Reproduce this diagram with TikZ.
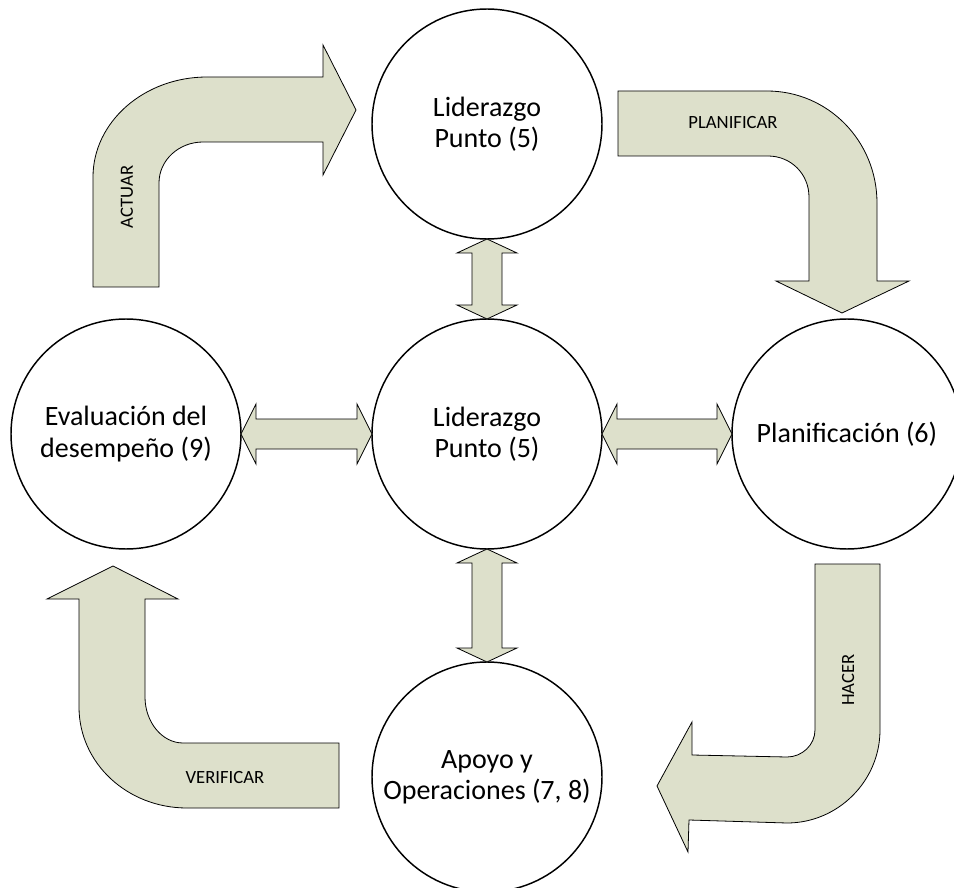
\documentclass[tikz,border=0pt]{standalone}
\usepackage{fontspec}
\setmainfont{Carlito}
\usetikzlibrary{calc}
\definecolor{arrowfill}{RGB}{221,224,203}
\tikzset{
  proc/.style={circle, draw=black, line width=1.1pt, minimum size=172.5pt,
    inner sep=0pt, outer sep=0pt, align=center,
    font=\fontsize{21}{23.5}\selectfont},
  blockarrow/.style={draw=black, line width=0.6pt, fill=arrowfill, line join=miter},
  lbl/.style={font=\fontsize{14}{16}\selectfont, inner sep=0pt},
}
\newcommand\vdblarrow[2]{%
  \draw[blockarrow] (#1) -- ($(#1)+(30,14)$) -- ($(#1)+(15,14)$) -- ($(#2)+(15,-14)$)
    -- ($(#2)+(30,-14)$) -- (#2) -- ($(#2)+(-30,-14)$) -- ($(#2)+(-15,-14)$)
    -- ($(#1)+(-15,14)$) -- ($(#1)+(-30,14)$) -- cycle;}
\newcommand\hdblarrow[2]{%
  \draw[blockarrow] (#1) -- ($(#1)+(15,-30)$) -- ($(#1)+(15,-15)$) -- ($(#2)+(-15,-15)$)
    -- ($(#2)+(-15,-30)$) -- (#2) -- ($(#2)+(-15,30)$) -- ($(#2)+(-15,15)$)
    -- ($(#1)+(15,15)$) -- ($(#1)+(15,30)$) -- cycle;}
\begin{document}
\begin{tikzpicture}[x=0.75pt,y=-0.75pt]
\useasboundingbox (0,0) rectangle (954,888);

% circles
\node[proc] (top)   at (487,124) {Liderazgo\\Punto (5)};
\node[proc] (cen)   at (487,434) {Liderazgo\\Punto (5)};
\node[proc] (left)  at (126,434) {Evaluación del\\desempeño (9)};
\node[proc] (right) at (847,434) {Planificación (6)};
\node[proc] (bot)   at (487,777) {Apoyo y\\Operaciones (7, 8)};

% double arrows
\vdblarrow{top.south}{cen.north}
\vdblarrow{cen.south}{bot.north}
\hdblarrow{left.east}{cen.west}
\hdblarrow{cen.east}{right.west}

% ACTUAR
\draw[blockarrow] (93,287) -- (93,177) .. controls (93,122) and (144,77) .. (207,77)
  -- (323,77) -- (323,45) -- (356,110) -- (323,175) -- (323,142) -- (203,142)
  .. controls (179,142) and (159,160) .. (159,183) -- (159,287) -- cycle;
\node[lbl, rotate=90] (tactuar) at (127,197) {ACTUAR};

% PLANIFICAR
\draw[blockarrow] (618,91) -- (767,91) .. controls (828,91) and (877,141) .. (877,203)
  -- (877,281) -- (909,281) -- (842,313) -- (776,281) -- (809,281) -- (809,197)
  .. controls (809,174) and (791,156) .. (768,156) -- (618,156) -- cycle;
\node[lbl] (tplan) at (733,123) {PLANIFICAR};

% HACER
\draw[blockarrow] (815,564) -- (880,564) -- (880,730) .. controls (880,781) and (838,823) .. (787,823)
  -- (689,820) -- (688,852) -- (657,786) -- (692,722) -- (692,755) -- (787,757)
  .. controls (802,757) and (815,745) .. (815,730) -- cycle;
\node[lbl, rotate=90] (thacer) at (848,680) {HACER};

% VERIFICAR
\draw[blockarrow] (339,743) -- (339,808) -- (187,808) .. controls (127,808) and (79,763) .. (79,707)
  -- (79,599) -- (47,599) -- (113,566) -- (178,599) -- (145,599) -- (145,697)
  .. controls (145,722) and (162,743) .. (183,743) -- cycle;
\node[lbl] (tverif) at (225,778) {VERIFICAR};
\end{tikzpicture}
\end{document}
